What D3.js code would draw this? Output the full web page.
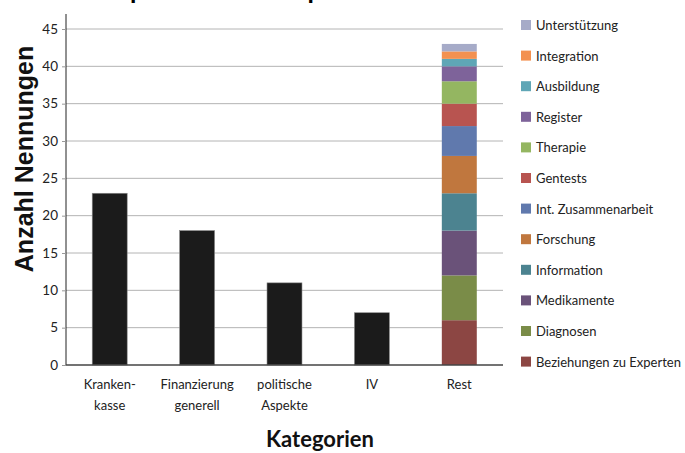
<!DOCTYPE html>
<html>
<head>
<meta charset="utf-8">
<script src="https://cdn.jsdelivr.net/npm/d3@7"></script>
<style>
  body { margin: 0; background: #fff; }
  text { font-family: "Lato", "Open Sans", sans-serif; }
</style>
</head>
<body>
<script>
// categories on the x axis (two label lines each)
var categories = ["Krankenkasse", "Finanzierung", "politisch", "IV", "Rest"];
var catLabels = [["Kranken-", "kasse"], ["Finanzierung", "generell"], ["politische", "Aspekte"], ["IV", ""], ["Rest", ""]];
var mainValues = [23, 18, 11, 7, 0];

// the stacked "Rest" bar, bottom to top
var restNames = ["Beziehungen zu Experten", "Diagnosen", "Medikamente", "Information", "Forschung",
  "Int. Zusammenarbeit", "Gentests", "Therapie", "Register", "Ausbildung", "Integration", "Unterstützung"];
var restValues = [6, 6, 6, 5, 5, 4, 3, 3, 2, 1, 1, 1];
var restColors = ["#8c4643", "#7a8c48", "#6a5279", "#4c8390", "#c0773e", "#6079ad",
  "#b85450", "#94b661", "#7e639a", "#5fa6b6", "#f39150", "#a6abc8"];

var yTicks = [0, 5, 10, 15, 20, 25, 30, 35, 40, 45];

var width = 685, height = 453;
var margin = {top: 29, left: 66, right: 182, bottom: 88};

var svg = d3.select("body").append("svg")
    .attr("width", width)
    .attr("height", height);

var x = d3.scaleBand()
    .domain(categories)
    .range([margin.left, width - margin.right])
    .paddingInner(0.6)
    .paddingOuter(0.3);

var y = d3.scaleLinear()
    .domain([0, 45])
    .range([height - margin.bottom, margin.top]);

// title, mostly above the visible area (only descenders show)
svg.append("text")
    .attr("x", 116)
    .attr("y", -1)
    .style("font-size", "26px")
    .style("font-weight", "bold")
    .text("Spektrum der Aspekte");

// gridlines
svg.append("g")
    .selectAll("line")
    .data(yTicks.slice(1))
    .enter()
    .append("line")
    .attr("x1", margin.left)
    .attr("x2", width - margin.right)
    .attr("y1", function(d){ return y(d); })
    .attr("y2", function(d){ return y(d); })
    .attr("stroke", "#b4b4b4")
    .attr("stroke-width", 1);

// y axis
var yAxis = svg.append("g")
    .attr("transform", "translate(" + margin.left + ",0)")
    .call(d3.axisLeft(y).tickValues(yTicks).tickSize(4).tickPadding(4));
yAxis.select(".domain").attr("stroke", "#222").attr("d", "M0," + y(0) + "V" + (margin.top - 15));
yAxis.selectAll(".tick line").attr("stroke", "#999");
yAxis.selectAll(".tick text")
    .style("font-family", "Lato, sans-serif")
    .style("font-size", "13.5px")
    .attr("fill", "#222");

// black bars
svg.append("g")
    .selectAll("rect")
    .data(categories.filter(function(c, i){ return mainValues[i] > 0; }))
    .enter()
    .append("rect")
    .attr("x", function(d){ return x(d); })
    .attr("width", x.bandwidth())
    .attr("y", function(d){ return y(mainValues[categories.indexOf(d)]); })
    .attr("height", function(d){ return y(0) - y(mainValues[categories.indexOf(d)]); })
    .attr("fill", "#1b1b1b")
    .attr("stroke", "#888")
    .attr("stroke-width", 0.6);

// stacked Rest bar
var cum = 0;
var segs = restValues.map(function(v, i){
    var s = {name: restNames[i], y0: cum, y1: cum + v, color: restColors[i]};
    cum += v;
    return s;
});
svg.append("g")
    .selectAll("rect")
    .data(segs)
    .enter()
    .append("rect")
    .attr("x", x("Rest"))
    .attr("width", x.bandwidth())
    .attr("y", function(d){ return y(d.y1); })
    .attr("height", function(d){ return y(d.y0) - y(d.y1); })
    .attr("fill", function(d){ return d.color; });

// x axis line
svg.append("line")
    .attr("x1", margin.left)
    .attr("x2", width - margin.right)
    .attr("y1", y(0))
    .attr("y2", y(0))
    .attr("stroke", "#444")
    .attr("stroke-width", 1.5);

// x labels
var xl = svg.append("g")
    .selectAll("text")
    .data(categories)
    .enter()
    .append("text")
    .attr("x", function(d){ return x(d) + x.bandwidth() / 2; })
    .attr("y", 389)
    .attr("text-anchor", "middle")
    .style("font-size", "13px")
    .attr("fill", "#222");
xl.append("tspan")
    .attr("x", function(d){ return x(d) + x.bandwidth() / 2; })
    .text(function(d, i){ return catLabels[i][0]; });
xl.append("tspan")
    .attr("x", function(d){ return x(d) + x.bandwidth() / 2; })
    .attr("dy", 21)
    .text(function(d, i){ return catLabels[i][1]; });

// axis titles
svg.append("text")
    .attr("x", 320)
    .attr("y", 447)
    .attr("text-anchor", "middle")
    .style("font-size", "22px")
    .style("font-weight", "bold")
    .attr("fill", "#111")
    .text("Kategorien");

svg.append("text")
    .attr("transform", "translate(33," + 159 + ") rotate(-90)")
    .attr("text-anchor", "middle")
    .style("font-family", "'Liberation Sans', Arial, sans-serif")
    .style("font-size", "25px")
    .style("font-weight", "bold")
    .attr("fill", "#111")
    .text("Anzahl Nennungen");

// legend, top entry is the top segment
var legend = svg.append("g")
    .selectAll("g")
    .data(segs.slice().reverse())
    .enter()
    .append("g")
    .attr("transform", function(d, i){ return "translate(521," + (20 + i * 30.6) + ")"; });
legend.append("rect")
    .attr("width", 10)
    .attr("height", 10)
    .attr("fill", function(d){ return d.color; });
legend.append("text")
    .attr("x", 15)
    .attr("y", 10)
    .style("font-size", "13px")
    .attr("fill", "#222")
    .text(function(d){ return d.name; });
</script>
</body>
</html>
